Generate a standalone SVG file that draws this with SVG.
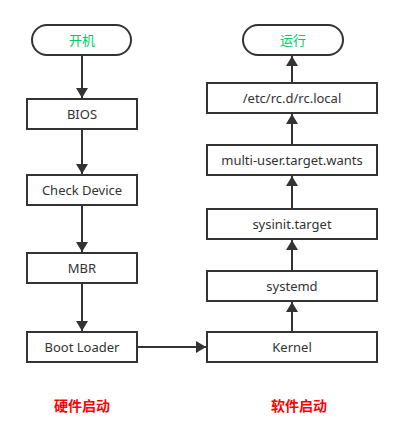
<svg xmlns="http://www.w3.org/2000/svg" width="402" height="448" viewBox="0 0 402 448">
<defs>
<marker id="ah" markerWidth="10" markerHeight="12" refX="10" refY="6" orient="auto" markerUnits="userSpaceOnUse" viewBox="0 0 10 12">
<path d="M0,0 L10,6 L0,12 Z" fill="#333"/>
</marker>
<style>
.box{fill:#fff;stroke:#333;stroke-width:2}
.t{font-family:"Noto Sans","Noto Sans CJK SC",sans-serif;font-size:13px;fill:#333;text-anchor:middle;dominant-baseline:central}
.g{fill:#00cc66}
.lbl{font-family:"Noto Sans CJK SC",sans-serif;font-size:14px;font-weight:bold;fill:#ff0000;text-anchor:middle}
.c{stroke:#333;stroke-width:2;fill:none;marker-end:url(#ah)}
</style>
</defs>
<rect width="402" height="448" fill="#fff"/>
<g id="connectors">
<line class="c" x1="82" y1="55" x2="82" y2="98"/>
<line class="c" x1="82" y1="129" x2="82" y2="174"/>
<line class="c" x1="82" y1="205" x2="82" y2="252"/>
<line class="c" x1="82" y1="283" x2="82" y2="331"/>
<line class="c" x1="137" y1="347" x2="206" y2="347"/>
<line class="c" x1="292" y1="332" x2="292" y2="302"/>
<line class="c" x1="292" y1="271" x2="292" y2="240"/>
<line class="c" x1="292" y1="209" x2="292" y2="176"/>
<line class="c" x1="292" y1="144" x2="292" y2="114"/>
<line class="c" x1="292" y1="82" x2="292" y2="56"/>
</g>
<g id="start"><rect class="box" x="32" y="25" width="99" height="30" rx="15"/><text class="t g" x="82" y="40">开机</text></g>
<g id="bios"><rect class="box" x="27" y="99" width="110" height="30"/><text class="t" x="82" y="114">BIOS</text></g>
<g id="check"><rect class="box" x="27" y="175" width="110" height="30"/><text class="t" x="82" y="190">Check Device</text></g>
<g id="mbr"><rect class="box" x="27" y="253" width="110" height="30"/><text class="t" x="82" y="268">MBR</text></g>
<g id="boot"><rect class="box" x="27" y="332" width="110" height="30"/><text class="t" x="82" y="347">Boot Loader</text></g>
<g id="run"><rect class="box" x="243" y="25" width="100" height="30" rx="15"/><text class="t g" x="293" y="40">运行</text></g>
<g id="rclocal"><rect class="box" x="207" y="83" width="170" height="30"/><text class="t" x="292" y="98">/etc/rc.d/rc.local</text></g>
<g id="multiuser"><rect class="box" x="207" y="145" width="170" height="30"/><text class="t" x="292" y="160">multi-user.target.wants</text></g>
<g id="sysinit"><rect class="box" x="207" y="209" width="170" height="30"/><text class="t" x="292" y="224">sysinit.target</text></g>
<g id="systemd"><rect class="box" x="207" y="271" width="170" height="30"/><text class="t" x="292" y="286">systemd</text></g>
<g id="kernel"><rect class="box" x="207" y="332" width="170" height="30"/><text class="t" x="292" y="347">Kernel</text></g>
<g id="labels">
<text class="lbl" x="82" y="411">硬件启动</text>
<text class="lbl" x="299" y="411">软件启动</text>
</g>
</svg>
